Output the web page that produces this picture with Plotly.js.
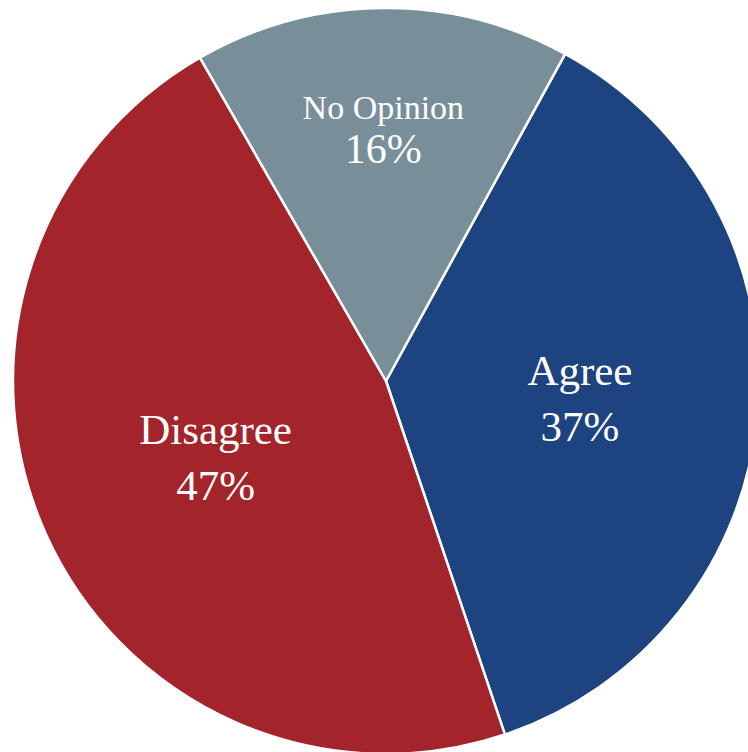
<!DOCTYPE html>
<html>
<head>
<meta charset="utf-8">
<script src="https://cdn.plot.ly/plotly-3.0.1.min.js"></script>
<style>
html, body { margin: 0; padding: 0; overflow: hidden; background: #fff; width: 748px; height: 752px; }
#chart { width: 770px; height: 760px; }
</style>
</head>
<body>
<div id="chart"></div>
<script>
var categories = ['Agree', 'Disagree', 'No Opinion'];
var shares = [36.9, 46.9, 16.3];
var sliceColors = ['#1d4480', '#a3242b', '#788f9a'];
var labelSizes = [43, 43, 34];

var templates = [
  '%{label}<br>%{percent:.0%}',
  '%{label}<br>%{percent:.0%}',
  '%{label}<br><span style="font-size:42px">%{percent:.0%}</span>'
];

var trace = {
  type: 'pie',
  labels: categories,
  values: shares,
  sort: false,
  direction: 'clockwise',
  rotation: 28.7,
  marker: { colors: sliceColors, line: { color: '#ffffff', width: 2.5 } },
  textposition: 'inside',
  insidetextorientation: 'horizontal',
  texttemplate: templates,
  textfont: { family: 'Liberation Serif, Times New Roman, serif', color: '#ffffff', size: labelSizes },
  hoverinfo: 'none',
  showlegend: false,
  domain: { x: [13 / 770, 759 / 770], y: [6 / 760, 752 / 760] }
};

var layout = {
  width: 770,
  height: 760,
  margin: { l: 0, r: 0, t: 0, b: 0, pad: 0 },
  paper_bgcolor: '#ffffff',
  showlegend: false
};

Plotly.newPlot('chart', [trace], layout, { staticPlot: true, displayModeBar: false });
</script>
</body>
</html>
